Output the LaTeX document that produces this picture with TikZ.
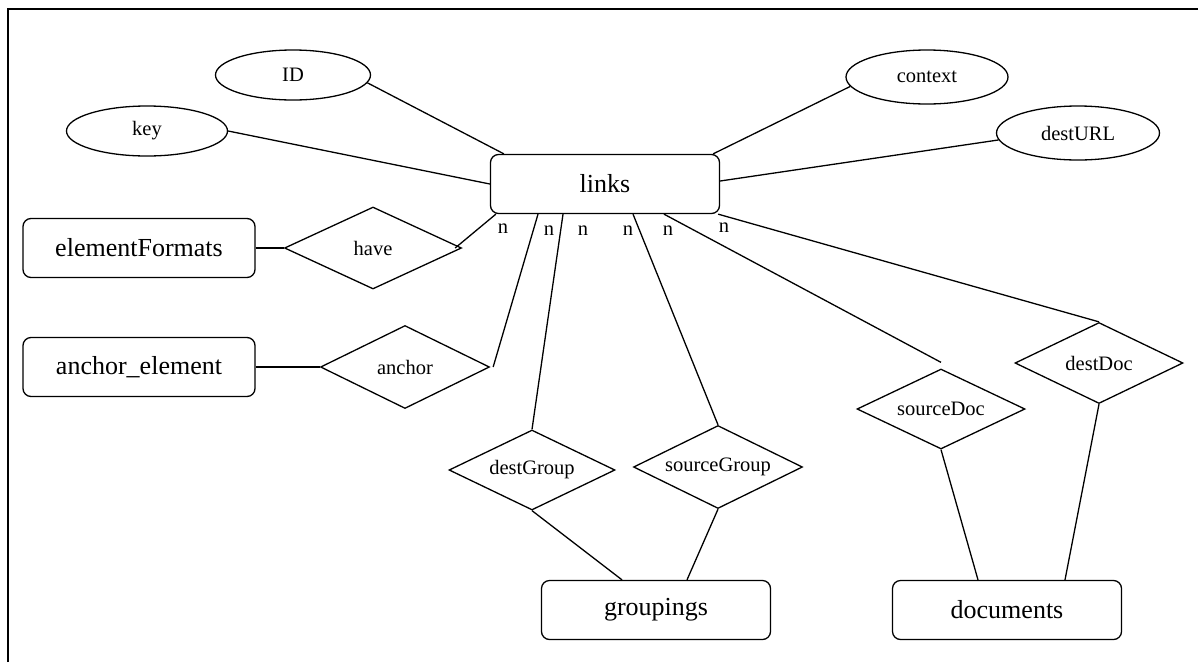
\documentclass[tikz,border=0pt]{standalone}
\usepackage{fontspec}
\setmainfont{Liberation Serif}
\usetikzlibrary{shapes.geometric}

\begin{document}
\begin{tikzpicture}[
        x=1pt, y=-1pt,
        line width=1.3pt,
        entity/.style={rectangle, draw, rounded corners=8pt, minimum width=229pt, minimum height=59pt, font=\fontsize{26}{30}\selectfont},
        attrib/.style={ellipse, draw, inner sep=0pt, minimum width=160pt, minimum height=52pt, font=\fontsize{20.5}{24}\selectfont},
        relation/.style={diamond, aspect=2, draw, inner sep=0pt, minimum width=168pt, minimum height=82pt, font=\fontsize{20.5}{24}\selectfont},
        card/.style={font=\fontsize{20.5}{24}\selectfont, inner sep=0pt}
    ]
    \useasboundingbox (0,0) rectangle (1198,662);

    % Frame (only top and left edges are inside the page)
    \draw[line width=2pt] (8,662) -- (8,9) -- (1198,9);

    % Entities
    \node[entity] (links) at (605,184) {links};
    \node[entity, minimum width=232pt] (elementFormats) at (139,248) {elementFormats};
    \node[entity, minimum width=232pt] (anchorElement) at (139,367) {anchor\_element};
    \node[entity] (groupings) at (656,610) {groupings};
    \node[entity] (documents) at (1007,610) {documents};

    % Attributes of links
    \node[attrib, minimum width=155pt, minimum height=50pt] (ID) at (293,75) {ID};
    \node[attrib, minimum width=161pt, minimum height=50pt] (key) at (147,131) {key};
    \node[attrib, minimum width=162pt, minimum height=54pt] (context) at (927,77) {context};
    \node[attrib, minimum width=163pt, minimum height=54pt] (destURL) at (1078,133) {destURL};

    % Relationships
    \node[relation, minimum width=177pt] (have) at (373,248) {have};
    \node[relation, minimum width=169pt, minimum height=83pt] (anchor) at (405,367) {anchor};
    \node[relation, minimum width=166pt, minimum height=80pt] (destGroup) at (532,470) {destGroup};
    \node[relation, minimum width=169pt, minimum height=83pt] (sourceGroup) at (718,467) {sourceGroup};
    \node[relation, minimum height=80pt] (sourceDoc) at (941,409) {sourceDoc};
    \node[relation, minimum height=81pt] (destDoc) at (1099,363) {destDoc};

    % Cardinalities under links
    \node[card] (n1) at (503,229) {n};
    \node[card] (n2) at (549,231) {n};
    \node[card] (n3) at (583,231) {n};
    \node[card] (n4) at (628,231) {n};
    \node[card] (n5) at (668,231) {n};
    \node[card] (n6) at (724,228) {n};

    % Attribute edges
    \draw (ID.-6) -- ([xshift=14pt]links.north west);
    \draw (key.east) -- (links.west);
    \draw (context.187) -- ([xshift=-7pt]links.north east);
    \draw (destURL.185) -- ([yshift=3pt]links.east);

    % Left side relationships
    \draw (elementFormats.east) -- (have.west);
    \draw ([xshift=-7pt]have.east) -- ([xshift=6pt]links.south west);
    \draw (anchorElement.east) -- (anchor.west);
    \draw ([xshift=3pt]anchor.east) -- ([xshift=-67pt]links.south);

    % Groupings
    \draw (destGroup.north) -- ([xshift=-42pt]links.south);
    \draw (sourceGroup.north) -- ([xshift=28pt]links.south);
    \draw (destGroup.south) -- ([xshift=-34pt]groupings.north);
    \draw (sourceGroup.south) -- ([xshift=31pt]groupings.north);

    % Documents
    \draw ([yshift=6pt]sourceDoc.north) -- ([xshift=59pt]links.south);
    \draw (destDoc.north) -- ([xshift=-2pt]links.south east);
    \draw (sourceDoc.south) -- ([xshift=-29pt]documents.north);
    \draw (destDoc.south) -- ([xshift=58pt]documents.north);

\end{tikzpicture}
\end{document}
